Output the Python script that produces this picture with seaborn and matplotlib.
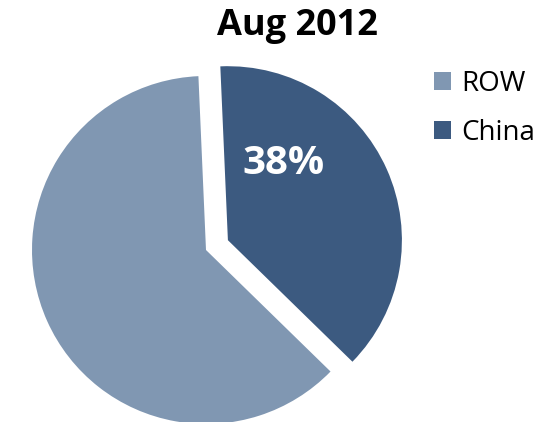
import matplotlib
matplotlib.use("Agg")
import matplotlib.pyplot as plt
import seaborn as sns

sns.set_theme(style="white")
plt.rcParams["font.family"] = ["Open Sans", "DejaVu Sans"]

# Share of the total, August 2012
labels = ["ROW", "China"]
shares = [62, 38]
colors = ["#8097B2", "#3C5A80"]
title = "Aug 2012"

fig = plt.figure(figsize=(5.42, 4.22), dpi=100)
ax = fig.add_axes([0, 0, 1, 1])

center = (206, 172)
radius = 174
wedges, texts, autotexts = ax.pie(
    shares,
    colors=colors,
    startangle=92.5,
    counterclock=True,
    explode=[0, 24],
    center=center,
    radius=radius,
    autopct="%1.0f%%",
    pctdistance=0.55,
    wedgeprops=dict(linewidth=0, clip_on=False),
    textprops=dict(color="white", fontsize=29, fontweight="bold"),
    frame=True,
)
ax.set_xlim(0, 542)
ax.set_ylim(0, 422)
ax.set_aspect("equal")
ax.axis("off")

# Percentage label sits in the upper part of the China slice
autotexts[0].set_visible(False)
autotexts[1].set_position((283, 259))
autotexts[1].set_ha("center")
autotexts[1].set_va("center")

fig.text(297 / 542, 1 - 26 / 422, title, ha="center", va="center",
         fontsize=26, fontweight="bold", color="black")

leg = ax.legend(
    wedges, labels,
    loc="upper left",
    bbox_to_anchor=(434 / 542, 1 - 70 / 422),
    bbox_transform=fig.transFigure,
    frameon=False,
    fontsize=20,
    handlelength=0.62,
    handleheight=0.62,
    handletextpad=0.35,
    labelspacing=0.74,
    borderaxespad=0,
    borderpad=0,
)
for t in leg.get_texts():
    t.set_color("black")

fig.savefig("out.png", dpi=100)
